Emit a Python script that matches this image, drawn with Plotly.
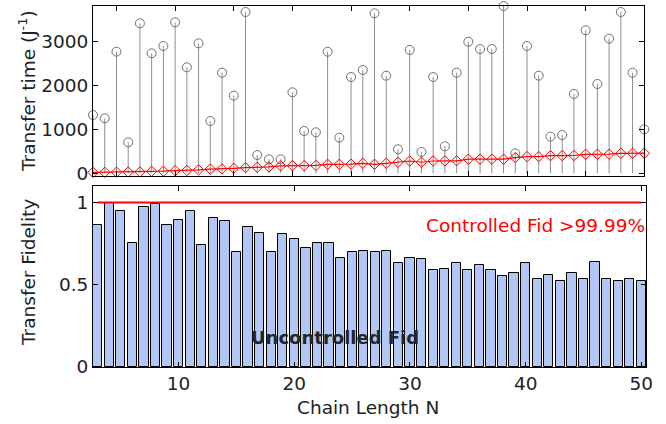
import plotly.graph_objects as go

# ---------------- data ----------------
chain_N = list(range(3, 51))

time_uncontrolled = [1329, 1254, 2772, 707, 3419, 2735, 2902, 3442, 2416, 2963,
                     1192, 2293, 1769, 3677, 417, 319, 319,
                     1846, 964, 934, 2772, 812, 2195, 2355, 3647, 2225, 547,
                     2811, 486, 2195, 615, 2293, 3000,
                     2833, 2833, 3814, 456, 2902, 2225, 835, 873, 1808, 3260,
                     2036, 3070, 3677, 2293, 1003]

time_controlled = [20, 22, 25, 28, 32, 45, 48, 60, 64, 78, 95, 98, 112, 130, 135,
                   145, 170, 175, 175, 178, 205, 205, 208, 228, 205, 228, 250,
                   280, 252, 280, 282, 285, 322, 322, 322, 322, 357, 380, 380,
                   403, 403, 405, 433, 433, 435, 456, 456, 458]

fid_uncontrolled = [0.861, 0.995, 0.946, 0.751, 0.972, 0.988, 0.861, 0.895, 0.946,
                    0.741, 0.904, 0.887, 0.699, 0.851, 0.817, 0.699, 0.811, 0.775,
                    0.725, 0.751, 0.751, 0.665, 0.699, 0.707, 0.699, 0.707, 0.630,
                    0.665, 0.654, 0.588, 0.596, 0.630, 0.588, 0.620, 0.588, 0.554,
                    0.570, 0.630, 0.536, 0.560, 0.520, 0.570, 0.536, 0.638, 0.536,
                    0.520, 0.536, 0.520]

fid_controlled_level = 0.9999

top_yticks = [0, 1000, 2000, 3000]
bot_yticks = [0, 0.5, 1]
bot_yticklabels = ["0", "0.5", "1"]
top_xticks = list(range(5, 51, 5))
bot_xticks = [10, 20, 30, 40, 50]

FONT = "DejaVu Sans"
FS = 18.5
TXT = "#222222"

# stems built from the data
stem_x, stem_y = [], []
for n, t in zip(chain_N, time_uncontrolled):
    stem_x += [n, n, None]
    stem_y += [0, t, None]

fig = go.Figure()

fig.add_trace(go.Scatter(x=stem_x, y=stem_y, mode="lines",
                         line=dict(color="#8e8e8e", width=1),
                         xaxis="x", yaxis="y", showlegend=False, hoverinfo="skip"))
fig.add_trace(go.Scatter(x=chain_N, y=time_uncontrolled, mode="markers",
                         marker=dict(symbol="circle-open", size=9,
                                     color="#707070", line=dict(width=1)),
                         xaxis="x", yaxis="y", showlegend=False, cliponaxis=False))
fig.add_trace(go.Scatter(x=chain_N, y=time_controlled, mode="lines+markers",
                         line=dict(color="#ff0000", width=1.2),
                         marker=dict(symbol="diamond-open", size=8,
                                     color="#ff0000", line=dict(width=1)),
                         xaxis="x", yaxis="y", showlegend=False, cliponaxis=False))

fig.add_trace(go.Bar(x=chain_N, y=fid_uncontrolled, width=0.8,
                     marker=dict(color="#b3c7f7", line=dict(color="#000000", width=1)),
                     xaxis="x2", yaxis="y2", showlegend=False))
fig.add_trace(go.Scatter(x=[chain_N[0], chain_N[-1]],
                         y=[fid_controlled_level, fid_controlled_level],
                         mode="lines", line=dict(color="#ff0000", width=2),
                         xaxis="x2", yaxis="y2", showlegend=False))

L, R, T, B = 93, 20, 6, 57
W, H = 666, 424
pw, ph = W - L - R, H - T - B


def px(x):
    return (x - L) / pw


def py(y):
    return (H - B - y) / ph


axis_common = dict(showline=True, linecolor="#000000", linewidth=1, mirror="ticks",
                   ticks="inside", ticklen=5, tickcolor="#000000", showgrid=False,
                   zeroline=False, automargin=False,
                   tickfont=dict(family=FONT, size=FS, color=TXT))


def ann(text, x, y, color=TXT, size=FS, angle=0, xanchor="center"):
    return dict(text=text, xref="paper", yref="paper", x=px(x), y=py(y),
                xanchor=xanchor, yanchor="middle", textangle=angle,
                showarrow=False, font=dict(family=FONT, size=size, color=color))


fig.update_layout(
    width=W, height=H,
    margin=dict(l=L, r=R, t=T, b=B, autoexpand=False),
    paper_bgcolor="white", plot_bgcolor="white",
    bargap=0,
    xaxis=dict(domain=[0, px(644.3)], range=[3, 50], tickvals=top_xticks,
               showticklabels=False, anchor="y", **axis_common),
    yaxis=dict(domain=[py(176), 1], range=[-62, 3814], tickvals=top_yticks,
               anchor="x", **axis_common),
    xaxis2=dict(domain=[0, 1], range=[2.6, 50.4], tickvals=bot_xticks,
                anchor="y2", **axis_common),
    yaxis2=dict(domain=[0, py(186)], range=[0, 1.1], tickvals=bot_yticks,
                ticktext=bot_yticklabels, anchor="x2", **axis_common),
    annotations=[
        ann("Transfer time (J<sup>-1</sup>)", 27, 91, angle=-90),
        ann("Transfer Fidelity", 28, 273, angle=-90),
        ann("Chain Length N", 367.5, 407.5),
        ann("Controlled Fid >99.99%", 647, 226, color="#ff0000", xanchor="right"),
        ann("<b>Uncontrolled Fid</b>", 335, 337, color="#262626", size=18),
    ],
)

fig.write_html("out.html",
               config={"displayModeBar": False},
               post_script="document.body.style.margin='0';document.body.style.padding='0';")
